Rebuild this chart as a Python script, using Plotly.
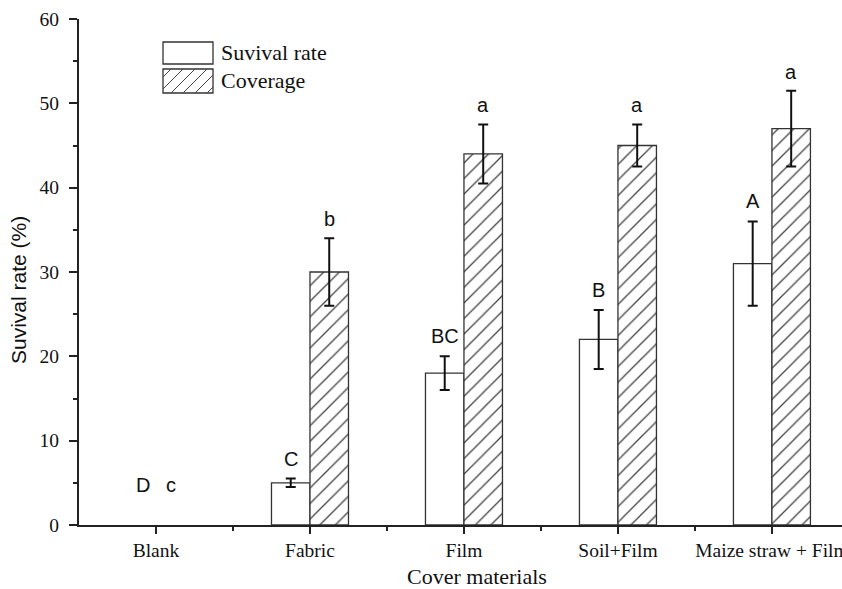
import plotly.graph_objects as go

categories = ["Blank", "Fabric", "Film", "Soil+Film", "Maize straw + Film"]
survival = [0, 5, 18, 22, 31]
survival_err = [0, 0.5, 2, 3.5, 5]
coverage = [0, 30, 44, 45, 47]
coverage_err = [0, 4, 3.5, 2.5, 4.5]
survival_letters = ["D", "C", "BC", "B", "A"]
coverage_letters = ["c", "b", "a", "a", "a"]
y_ticks = [0, 10, 20, 30, 40, 50, 60]

W, H = 842, 589
ML, MR, MT, MB = 79, 0, 19, 64
PW, PH = W - ML - MR, H - MT - MB

def px2paper(px, py):
    return (px - ML) / PW, (H - MB - py) / PH

xs = list(range(len(categories)))
AX = "#222222"
SERIF = "Liberation Serif, Times New Roman"

def shown(vals):
    return [v if v > 0 else None for v in vals]

fig = go.Figure()
fig.add_trace(go.Bar(
    x=xs, y=shown(survival), name="Suvival rate",
    marker=dict(color="white", line=dict(color="#333333", width=1.3)),
    error_y=dict(type="data", array=survival_err, visible=True,
                 color="#111111", thickness=2, width=5),
    showlegend=False,
))
fig.add_trace(go.Bar(
    x=xs, y=shown(coverage), name="Coverage",
    marker=dict(color="white", line=dict(color="#333333", width=1.3),
                pattern=dict(shape="/", fgcolor="#444444", bgcolor="white",
                             size=11, solidity=0.12)),
    error_y=dict(type="data", array=coverage_err, visible=True,
                 color="#111111", thickness=2, width=5),
    showlegend=False,
))

lab_font = dict(family="Liberation Sans, Arial", size=20, color="#111111")
for i in xs:
    blank = survival[i] == 0 and coverage[i] == 0
    ys = survival[i] + survival_err[i]
    yc = coverage[i] + coverage_err[i]
    fig.add_annotation(x=i - 0.125, y=ys, text=survival_letters[i], showarrow=False,
                       yanchor="middle", yshift=40 if blank else 20,
                       xshift=6 if blank else 0, font=lab_font)
    fig.add_annotation(x=i + 0.125, y=yc, text=coverage_letters[i], showarrow=False,
                       yanchor="middle", yshift=40 if blank else 19,
                       xshift=-4 if blank else 0, font=lab_font)

# axis titles
fig.add_annotation(xref="paper", yref="paper", x=0, y=px2paper(0, 290)[1],
                   xshift=18 - ML, text="Suvival rate (%)", textangle=-90,
                   showarrow=False, xanchor="center", yanchor="middle",
                   font=dict(family="Liberation Sans, Arial", size=21, color="#111111"))
fig.add_annotation(xref="paper", yref="paper", x=px2paper(477, 0)[0], y=0,
                   yshift=-51, text="Cover materials", showarrow=False,
                   xanchor="center", yanchor="middle",
                   font=dict(family=SERIF, size=22, color="#111111"))

# legend drawn manually
boxes = [(163, 42, 213, 64), (163, 69, 213, 93)]
for (x0, y0, x1, y1) in boxes:
    a0, b0 = px2paper(x0, y1)
    a1, b1 = px2paper(x1, y0)
    fig.add_shape(type="rect", xref="paper", yref="paper", x0=a0, y0=b0, x1=a1, y1=b1,
                  line=dict(color="#333333", width=1.3), fillcolor="white")
x0, y0, x1, y1 = boxes[1]
segs = []
k = x0 + y0 + 8
while k < x1 + y1:
    pts = []
    for px in (x0, x1):
        py = k - px
        if y0 <= py <= y1:
            pts.append((px, py))
    for py in (y0, y1):
        px = k - py
        if x0 < px < x1:
            pts.append((px, py))
    if len(pts) >= 2:
        (pa, pb), (pc, pd) = pts[0], pts[1]
        a, b = px2paper(pa, pb)
        c, d = px2paper(pc, pd)
        segs.append(f"M{a},{b} L{c},{d}")
    k += 12
fig.add_shape(type="path", xref="paper", yref="paper", path=" ".join(segs),
              line=dict(color="#444444", width=1))
leg_font = dict(family=SERIF, size=22, color="#111111")
for (bx0, by0, bx1, by1), name in zip(boxes, ["Suvival rate", "Coverage"]):
    a, b = px2paper(bx1 + 6, (by0 + by1) / 2)
    fig.add_annotation(xref="paper", yref="paper", x=a, y=b, text=name, showarrow=False,
                       xanchor="left", yanchor="middle", font=leg_font)

fig.update_layout(
    width=W, height=H, template="none",
    margin=dict(l=ML, r=MR, t=MT, b=MB, autoexpand=False),
    plot_bgcolor="white", paper_bgcolor="white",
    barmode="group", bargap=0.5, bargroupgap=0,
    showlegend=False,
)
fig.update_xaxes(
    type="linear", range=[-0.5, 4.455], automargin=False,
    tickvals=xs, ticktext=categories, ticklabeloverflow="allow",
    showline=True, linecolor=AX, linewidth=2, showgrid=False, zeroline=False,
    ticks="outside", ticklen=7, tickwidth=2, tickcolor=AX,
    minor=dict(tickvals=[i + 0.5 for i in xs], ticks="outside", ticklen=4,
               tickwidth=2, tickcolor=AX, showgrid=False),
    tickfont=dict(family=SERIF, size=19.5, color="#111111"),
)
fig.update_yaxes(
    range=[0, 60], automargin=False, tickvals=y_ticks,
    showline=True, linecolor=AX, linewidth=2, showgrid=False, zeroline=False,
    ticks="outside", ticklen=8, tickwidth=2, tickcolor=AX, ticklabelstandoff=6,
    minor=dict(dtick=5, ticks="outside", ticklen=4, tickwidth=2, tickcolor=AX, showgrid=False),
    tickfont=dict(family=SERIF, size=19.5, color="#111111"),
)

fig.write_html("out.html")
